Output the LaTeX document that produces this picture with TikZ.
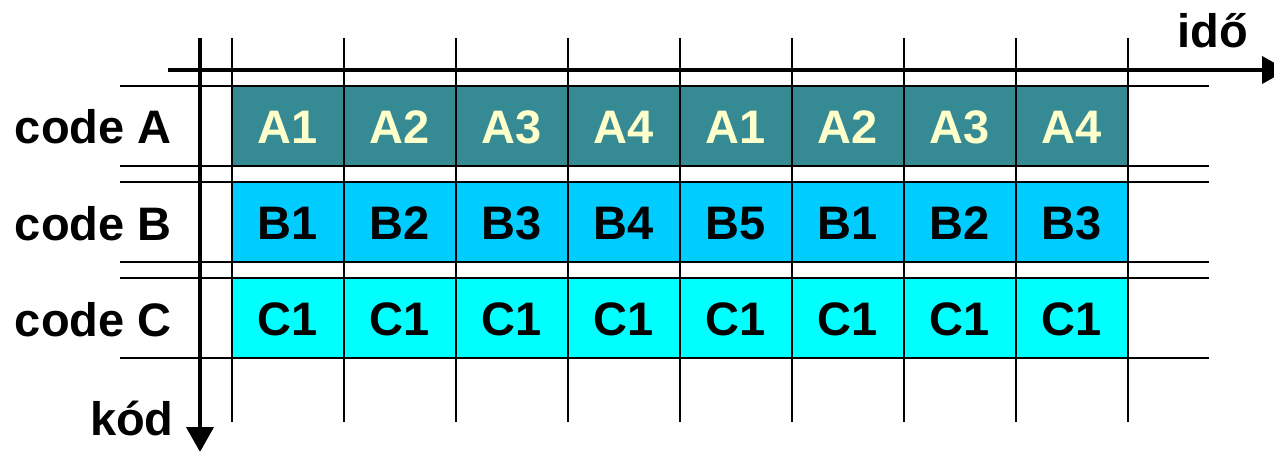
\documentclass[tikz,border=0pt]{standalone}
\usepackage{fontspec}
\setmainfont{Liberation Sans}
\usetikzlibrary{arrows.meta,positioning}
\definecolor{codeteal}{RGB}{53,138,147}
\definecolor{codeblue}{RGB}{0,204,255}
\definecolor{codecyan}{RGB}{0,255,255}
\definecolor{lightyellow}{RGB}{255,255,204}

\begin{document}
\begin{tikzpicture}[
    x=0.5pt, y=-0.5pt,
    cell/.style={rectangle, draw=black, line width=1pt, minimum width=56pt,
                 minimum height=40pt, inner sep=0pt, outer sep=0pt,
                 text height=17pt, text depth=0pt,
                 font=\fontsize{23.5}{28}\selectfont\bfseries},
    rowlabel/.style={anchor=base east, inner sep=0pt,
                     font=\fontsize{23.5}{28}\selectfont\bfseries},
    grid/.style={line width=1pt, black},
    axis/.style={-{Triangle[length=12.5pt, width=13.5pt]}, line width=2pt, black}
]
    \fill[white] (0,0) rectangle (1274,450);
    \clip (0,0) rectangle (1274,450);

    % grid
    \foreach \yy in {86,166,182,262,278,358}
        \draw[grid] (120,\yy) -- (1209,\yy);
    \foreach \xx in {232,344,...,1128}
        \draw[grid] (\xx,38) -- (\xx,422);

    % code A
    \node[cell, fill=codeteal, text=lightyellow] (a1) at (288,126) {A1};
    \node[cell, fill=codeteal, text=lightyellow] (a2) at (400,126) {A2};
    \node[cell, fill=codeteal, text=lightyellow] (a3) at (512,126) {A3};
    \node[cell, fill=codeteal, text=lightyellow] (a4) at (624,126) {A4};
    \node[cell, fill=codeteal, text=lightyellow] (a5) at (736,126) {A1};
    \node[cell, fill=codeteal, text=lightyellow] (a6) at (848,126) {A2};
    \node[cell, fill=codeteal, text=lightyellow] (a7) at (960,126) {A3};
    \node[cell, fill=codeteal, text=lightyellow] (a8) at (1072,126) {A4};

    % code B
    \node[cell, fill=codeblue] (b1) at (288,222) {B1};
    \node[cell, fill=codeblue] (b2) at (400,222) {B2};
    \node[cell, fill=codeblue] (b3) at (512,222) {B3};
    \node[cell, fill=codeblue] (b4) at (624,222) {B4};
    \node[cell, fill=codeblue] (b5) at (736,222) {B5};
    \node[cell, fill=codeblue] (b6) at (848,222) {B1};
    \node[cell, fill=codeblue] (b7) at (960,222) {B2};
    \node[cell, fill=codeblue] (b8) at (1072,222) {B3};

    % code C
    \node[cell, fill=codecyan] (c1) at (288,318) {C1};
    \node[cell, fill=codecyan] (c2) at (400,318) {C1};
    \node[cell, fill=codecyan] (c3) at (512,318) {C1};
    \node[cell, fill=codecyan] (c4) at (624,318) {C1};
    \node[cell, fill=codecyan] (c5) at (736,318) {C1};
    \node[cell, fill=codecyan] (c6) at (848,318) {C1};
    \node[cell, fill=codecyan] (c7) at (960,318) {C1};
    \node[cell, fill=codecyan] (c8) at (1072,318) {C1};

    \node[rowlabel] (codea) at (172,143) {code A};
    \node[rowlabel] (codeb) at (172,240) {code B};
    \node[rowlabel] (codec) at (172,336) {code C};

    % axes
    \coordinate (tstart) at (168,70);
    \coordinate (tend) at (1287,70);
    \coordinate (kstart) at (200,38);
    \coordinate (kend) at (200,452);
    \draw[axis] (tstart) -- (tend);
    \draw[axis] (kstart) -- (kend);
    \node[rowlabel] (kod) at (174,435) {kód};
    \node[rowlabel, anchor=base west] (ido) at (1177,47) {idő};
\end{tikzpicture}
\end{document}
